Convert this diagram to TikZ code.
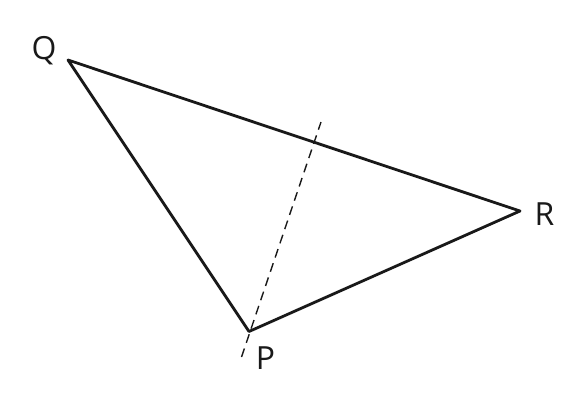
\documentclass[tikz,border=0pt]{standalone}
\usepackage{fontspec}
\setmainfont{Open Sans}
\begin{document}
\begin{tikzpicture}[x=1bp,y=-1bp,
  edge/.style={line width=2.8bp,line join=round,draw=black!90},
  aux/.style={line width=1.4bp,draw=black!90,dash pattern=on 9bp off 6bp},
  lbl/.style={font=\fontsize{32}{32}\selectfont,text=black!90,inner sep=0pt}]
\useasboundingbox (0,0) rectangle (584,409);
\coordinate (Q) at (68,60);
\coordinate (R) at (520,211);
\coordinate (P) at (249,331.5);
\coordinate (D1) at (241.5,357);
\coordinate (D2) at (321,122);
\draw[edge] (Q) -- (R) -- (P) -- cycle;
\draw[aux] (D1) -- (D2);
\node[lbl] (lq) at (44,51) {Q};
\node[lbl] (lr) at (544.5,214) {R};
\node[lbl] (lp) at (265.5,358.5) {P};
\end{tikzpicture}
\end{document}
